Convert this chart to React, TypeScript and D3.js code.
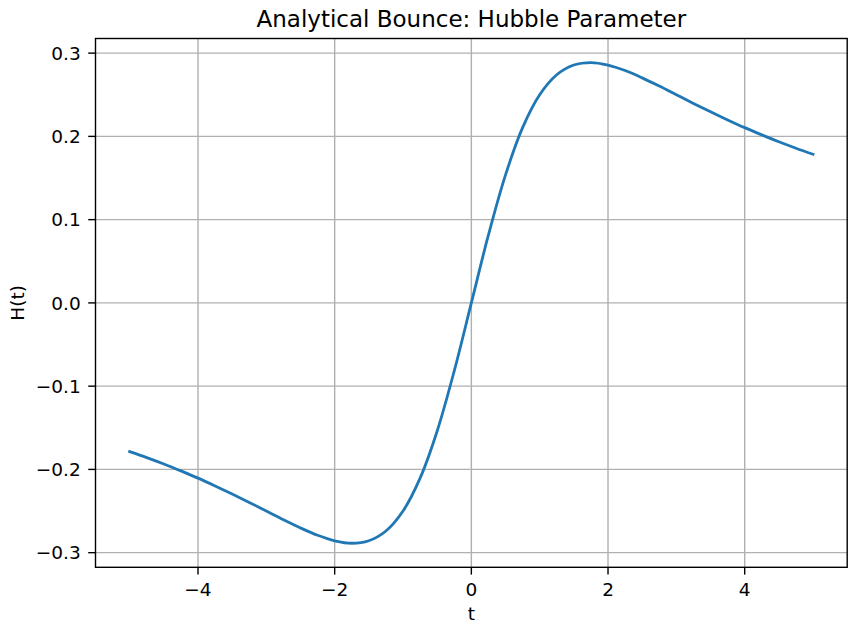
import React from "react";
import * as d3 from "d3";

const tValues = [
  -5, -4.75, -4.5, -4.25, -4, -3.75, -3.5, -3.25, -3, -2.75, -2.5, -2.25, -2, -1.75, -1.5, -1.25, -1, -0.75, -0.5, -0.25,
  0, 0.25, 0.5, 0.75, 1, 1.25, 1.5, 1.75, 2, 2.25, 2.5, 2.75, 3, 3.25, 3.5, 3.75, 4, 4.25, 4.5, 4.75, 5,
];
const hValues = [
  -0.1786, -0.1858, -0.1935, -0.2018, -0.2105, -0.2198, -0.2295, -0.2396, -0.25, -0.2604, -0.2703, -0.2791, -0.2857,
  -0.2887, -0.2857, -0.274, -0.25, -0.2105, -0.1538, -0.0816,
  0, 0.0816, 0.1538, 0.2105, 0.25, 0.274, 0.2857, 0.2887, 0.2857, 0.2791, 0.2703, 0.2604, 0.25, 0.2396, 0.2295, 0.2198,
  0.2105, 0.2018, 0.1935, 0.1858, 0.1786,
];
const xTicks = [-4, -2, 0, 2, 4];
const yTicks = [-0.3, -0.2, -0.1, 0, 0.1, 0.2, 0.3];
const titleText = "Analytical Bounce: Hubble Parameter";
const xLabel = "t";
const yLabel = "H(t)";

const W = 857;
const H = 632;
const left = 95.5;
const right = 847.2;
const top = 38.5;
const bottom = 567.3;
const font = "DejaVu Sans, sans-serif";
const tickFs = 18.5;

function fmtX(v: number) {
  return v < 0 ? "\u2212" + Math.abs(v) : String(v);
}
function fmtY(v: number) {
  const s = Math.abs(v).toFixed(1);
  return v < -1e-9 ? "\u2212" + s : s;
}

export default function App() {
  const x = d3.scaleLinear().domain([-5.5, 5.5]).range([left, right]);
  const ymax = 0.2887 + 0.05 * 0.5774;
  const y = d3.scaleLinear().domain([-ymax, ymax]).range([bottom, top]);
  const data = tValues.map((t, i) => [t, hValues[i]] as [number, number]);
  const line = d3
    .line<[number, number]>()
    .x((d) => x(d[0]))
    .y((d) => y(d[1]))
    .curve(d3.curveCatmullRom.alpha(0.5));

  return (
    <svg width={W} height={H} style={{ position: "absolute", left: 0, top: 0, background: "#fff" }}>
      <rect x={0} y={0} width={W} height={H} fill="#fff" />
      {xTicks.map((t) => (
        <line key={"gx" + t} x1={x(t)} x2={x(t)} y1={top} y2={bottom} stroke="#b0b0b0" strokeWidth={1.4} />
      ))}
      {yTicks.map((t) => (
        <line key={"gy" + t} x1={left} x2={right} y1={y(t)} y2={y(t)} stroke="#b0b0b0" strokeWidth={1.4} />
      ))}
      <path d={line(data) || ""} fill="none" stroke="#1f77b4" strokeWidth={2.8} strokeLinecap="square" />
      <rect x={left} y={top} width={right - left} height={bottom - top} fill="none" stroke="#000" strokeWidth={1.4} />
      {xTicks.map((t) => (
        <g key={"tx" + t}>
          <line x1={x(t)} x2={x(t)} y1={bottom} y2={bottom + 7.3} stroke="#000" strokeWidth={1.4} />
          <text x={x(t)} y={bottom + 28.5} textAnchor="middle" fontFamily={font} fontSize={tickFs} fill="#000">
            {fmtX(t)}
          </text>
        </g>
      ))}
      {yTicks.map((t) => (
        <g key={"ty" + t}>
          <line x1={left - 7.3} x2={left} y1={y(t)} y2={y(t)} stroke="#000" strokeWidth={1.4} />
          <text
            x={left - 14.8}
            y={y(t)}
            dy="0.36em"
            textAnchor="end"
            fontFamily={font}
            fontSize={tickFs}
            fill="#000"
          >
            {fmtY(t)}
          </text>
        </g>
      ))}
      <text x={(left + right) / 2} y={27.3} textAnchor="middle" fontFamily={font} fontSize={23} fill="#000">
        {titleText}
      </text>
      <text x={(left + right) / 2} y={620} textAnchor="middle" fontFamily={font} fontSize={tickFs} fill="#000">
        {xLabel}
      </text>
      <text
        transform={`translate(24, ${(top + bottom) / 2}) rotate(-90)`}
        textAnchor="middle"
        fontFamily={font}
        fontSize={tickFs}
        fill="#000"
      >
        {yLabel}
      </text>
    </svg>
  );
}
